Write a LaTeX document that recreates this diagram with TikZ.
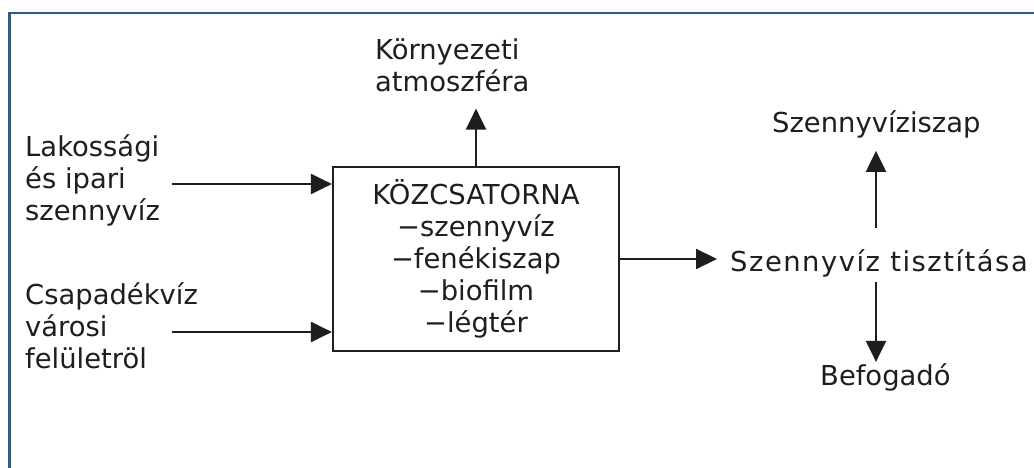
\documentclass[tikz,border=0pt]{standalone}
\usepackage{fontspec}
\setmainfont{DejaVu Sans}
\newfontfamily\widefont[LetterSpace=5.5]{DejaVu Sans}
\usetikzlibrary{arrows.meta}
\definecolor{framecol}{RGB}{47,92,135}
\definecolor{inkcol}{RGB}{30,30,30}
\tikzset{
  lbl/.style={inner sep=0pt, anchor=base west, align=left, text=inkcol,
    font=\fontsize{27.4}{32}\selectfont},
  arr/.style={draw=inkcol, line width=2.2pt,
    -{Triangle[length=21pt,width=20pt]}},
  boxstyle/.style={draw=inkcol, line width=2.2pt, minimum width=286pt,
    minimum height=184pt, align=center, text=inkcol, inner sep=0pt,
    font=\fontsize{27.4}{32}\selectfont}
}
\begin{document}
\begin{tikzpicture}[x=1pt,y=-1pt]
\useasboundingbox (0,0) rectangle (1034,468);
\fill[white] (0,0) rectangle (1034,468);
\draw[framecol, line width=2.5pt] (9.5,470) -- (9.5,13) -- (1036,13);

\node[boxstyle] (box) at (476,259) {KÖZCSATORNA\\−szennyvíz\\−fenékiszap\\−biofilm\\−légtér};

% anchor base west of a multi-line node = baseline of its last line
\node[lbl] (env) at (375,92) {Környezeti\\atmoszféra};
\node[lbl] (lak) at (25,220) {Lakossági\\és ipari\\szennyvíz};
\node[lbl] (csa) at (25,368) {Csapadékvíz\\városi\\felületröl};
\node[lbl] (tis) at (730,271) {\widefont Szennyvíz tisztítása};
\node[lbl] (szi) at (772,133) {Szennyvíziszap};
\node[lbl] (bef) at (820,385) {Befogadó};

\coordinate (in1) at (172,184);
\coordinate (in2) at (172,332);
\coordinate (ax) at (876,0);

\draw[arr, shorten >=16pt] (box.north) -- (box.north |- env.south);
\draw[arr] (in1) -- (box.west |- in1);
\draw[arr] (in2) -- (box.west |- in2);
\draw[arr, shorten >=13pt] (box.east) -- (box.east -| tis.west);
\draw[arr, shorten <=21pt, shorten >=12pt] (ax |- tis.north) -- (ax |- szi.south);
\draw[arr, shorten <=5pt, shorten >=1pt] (ax |- tis.south) -- (ax |- bef.north);
\end{tikzpicture}
\end{document}
